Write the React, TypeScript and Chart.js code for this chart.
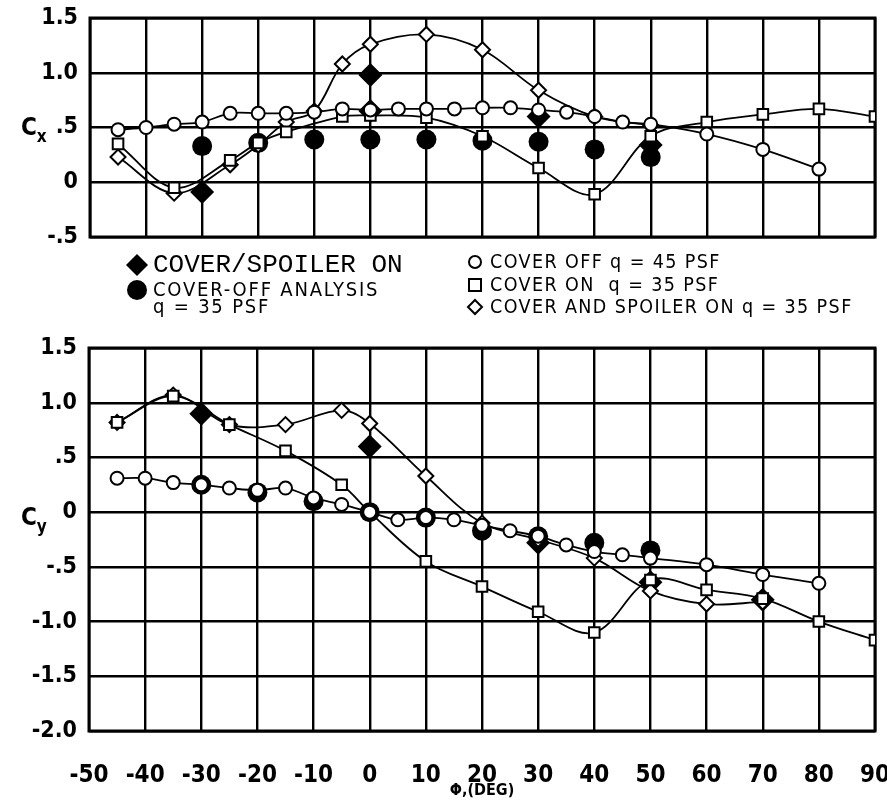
import React, { useEffect, useRef } from "react";
import { Chart, registerables } from "chart.js";
Chart.register(...registerables);

// ---------- axes ----------
const phiMin = -50;
const phiMax = 90;
const phiTickValues = [-50, -40, -30, -20, -10, 0, 10, 20, 30, 40, 50, 60, 70, 80, 90];
const phiTickLabels = ["-50", "-40", "-30", "-20", "-10", "0", "10", "20", "30", "40", "50", "60", "70", "80", "90"];
const cxTickValues = [-0.5, 0, 0.5, 1.0, 1.5];
const cxTickLabels = ["-.5", "0", ".5", "1.0", "1.5"];
const cyTickValues = [-2, -1.5, -1, -0.5, 0, 0.5, 1, 1.5];
const cyTickLabels = ["-2.0", "-1.5", "-1.0", "-.5", "0", ".5", "1.0", "1.5"];

// ---------- legend labels ----------
const labelSpoilerOnTest = "COVER/SPOILER ON";
const labelAnalysis1 = "COVER-OFF ANALYSIS";
const labelAnalysis2 = "q = 35 PSF";
const labelCoverOff45 = "COVER OFF q = 45 PSF";
const labelCoverOn35 = "COVER ON  q = 35 PSF";
const labelSpoiler35 = "COVER AND SPOILER ON q = 35 PSF";

// ---------- Cx (top) ----------
const cxCoverOffPhi = [-45, -40, -35, -30, -25, -20, -15, -10, -5, 0, 5, 10, 15, 20, 25, 30, 35, 40, 45, 50, 60, 70, 80];
const cxCoverOffVal = [0.48, 0.5, 0.53, 0.55, 0.63, 0.63, 0.63, 0.64, 0.67, 0.66, 0.67, 0.67, 0.67, 0.68, 0.68, 0.66, 0.64, 0.6, 0.55, 0.53, 0.44, 0.3, 0.12];
const cxCoverOnPhi = [-45, -35, -25, -20, -15, -5, 0, 10, 20, 30, 40, 50, 60, 70, 80, 90];
const cxCoverOnVal = [0.35, -0.05, 0.2, 0.36, 0.46, 0.6, 0.61, 0.59, 0.42, 0.13, -0.11, 0.42, 0.55, 0.62, 0.67, 0.6];
const cxSpoilerPhi = [-45, -35, -25, -20, -15, -10, -5, 0, 10, 20, 30, 40, 50];
const cxSpoilerVal = [0.23, -0.1, 0.16, 0.34, 0.55, 0.65, 1.08, 1.26, 1.35, 1.21, 0.84, 0.6, 0.52];
const cxAnalysisPhi = [-30, -20, -10, 0, 10, 20, 30, 40, 50];
const cxAnalysisVal = [0.33, 0.36, 0.39, 0.39, 0.39, 0.38, 0.37, 0.3, 0.23];
const cxTestPhi = [-30, 0, 0, 30, 50];
const cxTestVal = [-0.09, 0.98, 0.65, 0.6, 0.34];

// ---------- Cy (bottom) ----------
const cyCoverOffPhi = [-45, -40, -35, -30, -25, -20, -15, -10, -5, 0, 5, 10, 15, 20, 25, 30, 35, 40, 45, 50, 60, 70, 80];
const cyCoverOffVal = [0.31, 0.31, 0.27, 0.25, 0.22, 0.2, 0.22, 0.13, 0.07, 0.0, -0.07, -0.05, -0.07, -0.12, -0.17, -0.22, -0.3, -0.36, -0.39, -0.42, -0.48, -0.57, -0.65];
const cyCoverOnPhi = [-45, -35, -25, -15, -5, 0, 10, 20, 30, 40, 50, 60, 70, 80, 90];
const cyCoverOnVal = [0.82, 1.06, 0.8, 0.56, 0.25, 0.0, -0.45, -0.68, -0.91, -1.1, -0.62, -0.71, -0.79, -1.0, -1.17];
const cySpoilerPhi = [-45, -35, -25, -15, -5, 0, 10, 20, 30, 40, 50, 60, 70];
const cySpoilerVal = [0.82, 1.07, 0.8, 0.8, 0.93, 0.81, 0.33, -0.1, -0.25, -0.42, -0.72, -0.84, -0.82];
const cyAnalysisPhi = [-30, -20, -10, 0, 10, 20, 30, 40, 50];
const cyAnalysisVal = [0.25, 0.18, 0.1, 0.0, -0.05, -0.17, -0.22, -0.28, -0.35];
const cyTestPhi = [-30, 0, 30, 50, 70];
const cyTestVal = [0.9, 0.6, -0.28, -0.64, -0.8];

const pts = (xs: number[], ys: number[]) => xs.map((x, i) => ({ x, y: ys[i] }));

const narrow = "'Liberation Sans Narrow', 'DejaVu Sans Condensed', 'DejaVu Sans', sans-serif";
const tickFont = { family: narrow, size: 23, weight: "bold" as const };

const framePlugin = {
  id: "frame",
  beforeDatasetsDraw(chart: any) {
    const { ctx, chartArea: a } = chart;
    ctx.save();
    ctx.strokeStyle = "#000";
    ctx.lineWidth = 3;
    ctx.strokeRect(a.left, a.top, a.right - a.left, a.bottom - a.top);
    ctx.restore();
  },
};

function lineSet(label: string, data: any[], style: string, radius: number, order: number) {
  return {
    label,
    data,
    showLine: true,
    borderColor: "#000",
    borderWidth: 1.8,
    tension: 0.35,
    pointStyle: style,
    pointRadius: radius,
    pointBorderWidth: 2,
    pointBorderColor: "#000",
    pointBackgroundColor: "#fff",
    order,
  };
}
function markSet(label: string, data: any[], style: string, radius: number, order: number) {
  return {
    label,
    data,
    showLine: false,
    pointStyle: style,
    pointRadius: radius,
    pointBorderWidth: 0,
    pointBorderColor: "#000",
    pointBackgroundColor: "#000",
    order,
  };
}

function makeConfig(datasets: any[], yVals: number[], yLabels: string[], showX: boolean, yWidth: number, padding: any, xHeight: number) {
  const lab = (vals: number[], labels: string[]) => (v: any) => {
    const i = vals.findIndex((t) => Math.abs(t - Number(v)) < 1e-6);
    return i >= 0 ? labels[i] : "";
  };
  return {
    type: "scatter" as const,
    data: { datasets },
    plugins: [framePlugin],
    options: {
      responsive: false,
      animation: false as const,
      devicePixelRatio: 1,
      layout: { padding },
      plugins: { legend: { display: false }, tooltip: { enabled: false } },
      scales: {
        x: {
          type: "linear" as const,
          min: phiMin,
          max: phiMax,
          afterBuildTicks: (s: any) => {
            s.ticks = phiTickValues.map((v) => ({ value: v }));
          },
          afterFit: (s: any) => {
            s.height = xHeight;
            s.paddingLeft = 0;
            s.paddingRight = 0;
          },
          ticks: {
            display: showX,
            autoSkip: false,
            maxRotation: 0,
            padding: 30,
            color: "#000",
            font: { ...tickFont, size: 24 },
            callback: lab(phiTickValues, phiTickLabels),
          },
          grid: { color: "#000", lineWidth: 2.4, drawTicks: false },
          border: { display: false },
        },
        y: {
          type: "linear" as const,
          min: yVals[0],
          max: yVals[yVals.length - 1],
          afterBuildTicks: (s: any) => {
            s.ticks = yVals.map((v) => ({ value: v }));
          },
          afterFit: (s: any) => {
            s.width = yWidth;
            s.paddingTop = 0;
            s.paddingBottom = 0;
          },
          ticks: {
            autoSkip: false,
            padding: 12,
            color: "#000",
            font: tickFont,
            callback: lab(yVals, yLabels),
          },
          grid: { color: "#000", lineWidth: 2.4, drawTicks: false },
          border: { display: false },
        },
      },
    },
  };
}

const legendSans = "'DejaVu Sans Condensed', 'DejaVu Sans', sans-serif";

function Txt(props: { x: number; y: number; size: number; family: string; weight?: string; ls?: number; children: any }) {
  return (
    <div
      style={{
        position: "absolute",
        left: props.x,
        top: props.y,
        transform: "translateY(-50%)",
        fontFamily: props.family,
        fontSize: props.size,
        fontWeight: (props.weight as any) || "normal",
        letterSpacing: props.ls || 0,
        lineHeight: 1,
        color: "#000",
        whiteSpace: "pre",
      }}
    >
      {props.children}
    </div>
  );
}

export default function App() {
  const topRef = useRef<HTMLCanvasElement>(null);
  const botRef = useRef<HTMLCanvasElement>(null);

  useEffect(() => {
    const top = new Chart(
      topRef.current as HTMLCanvasElement,
      makeConfig(
        [
          lineSet(labelCoverOff45, pts(cxCoverOffPhi, cxCoverOffVal), "circle", 6.5, 1),
          lineSet(labelCoverOn35, pts(cxCoverOnPhi, cxCoverOnVal), "rect", 7.5, 2),
          lineSet(labelSpoiler35, pts(cxSpoilerPhi, cxSpoilerVal), "rectRot", 7.5, 3),
          markSet(labelAnalysis1, pts(cxAnalysisPhi, cxAnalysisVal), "circle", 10, 10),
          markSet(labelSpoilerOnTest, pts(cxTestPhi, cxTestVal), "rectRot", 12, 9),
        ],
        cxTickValues,
        cxTickLabels,
        false,
        90,
        { left: 0, right: 9, top: 18, bottom: 13 },
        0
      ) as any
    );
    const bot = new Chart(
      botRef.current as HTMLCanvasElement,
      makeConfig(
        [
          lineSet(labelCoverOff45, pts(cyCoverOffPhi, cyCoverOffVal), "circle", 6.5, 1),
          lineSet(labelCoverOn35, pts(cyCoverOnPhi, cyCoverOnVal), "rect", 7.5, 2),
          lineSet(labelSpoiler35, pts(cySpoilerPhi, cySpoilerVal), "rectRot", 7.5, 3),
          markSet(labelAnalysis1, pts(cyAnalysisPhi, cyAnalysisVal), "circle", 10, 10),
          markSet(labelSpoilerOnTest, pts(cyTestPhi, cyTestVal), "rectRot", 12, 9),
        ],
        cyTickValues,
        cyTickLabels,
        true,
        89,
        { left: 0, right: 12, top: 18, bottom: 0 },
        69
      ) as any
    );
    return () => {
      top.destroy();
      bot.destroy();
    };
  }, []);

  return (
    <div style={{ position: "fixed", left: 0, top: 0, width: 887, height: 800, background: "#fff", overflow: "hidden" }}>
      <canvas ref={topRef} width={887} height={250} style={{ position: "absolute", left: 0, top: 0 }} />
      <canvas ref={botRef} width={887} height={470} style={{ position: "absolute", left: 0, top: 330 }} />

      {/* axis titles */}
      <Txt x={21} y={127} size={24} family={narrow} weight="bold">
        C<span style={{ fontSize: 17, position: "relative", top: 7 }}>x</span>
      </Txt>
      <Txt x={21} y={517} size={24} family={narrow} weight="bold">
        C<span style={{ fontSize: 17, position: "relative", top: 7 }}>y</span>
      </Txt>
      <div
        style={{
          position: "absolute",
          left: 432,
          width: 100,
          top: 782,
          textAlign: "center",
          fontFamily: narrow,
          fontWeight: "bold",
          fontSize: 16,
          lineHeight: 1,
        }}
      >
        Φ,(DEG)
      </div>

      {/* legend markers */}
      <svg width={887} height={80} style={{ position: "absolute", left: 0, top: 245 }}>
        <polygon points="137,9 148,20 137,31 126,20" fill="#000" />
        <circle cx={137} cy={45} r={10} fill="#000" />
        <circle cx={475} cy={17} r={6} fill="#fff" stroke="#000" strokeWidth={2} />
        <rect x={469} y={34} width={12} height={12} fill="#fff" stroke="#000" strokeWidth={2} />
        <polygon points="475,55 482,62 475,69 468,62" fill="#fff" stroke="#000" strokeWidth={2} />
      </svg>

      {/* legend text */}
      <Txt x={153} y={265} size={26} family="'Liberation Mono', 'DejaVu Sans Mono', monospace">
        {labelSpoilerOnTest}
      </Txt>
      <Txt x={153} y={289} size={20} ls={1.8} family={legendSans}>
        {labelAnalysis1}
      </Txt>
      <Txt x={153} y={306} size={20} ls={1.8} family={legendSans}>
        {labelAnalysis2}
      </Txt>
      <Txt x={490} y={262} size={19.5} ls={1.4} family={legendSans}>
        {labelCoverOff45}
      </Txt>
      <Txt x={490} y={285} size={19.5} ls={1.4} family={legendSans}>
        {labelCoverOn35}
      </Txt>
      <Txt x={490} y={307} size={19.5} ls={1.4} family={legendSans}>
        {labelSpoiler35}
      </Txt>
    </div>
  );
}
